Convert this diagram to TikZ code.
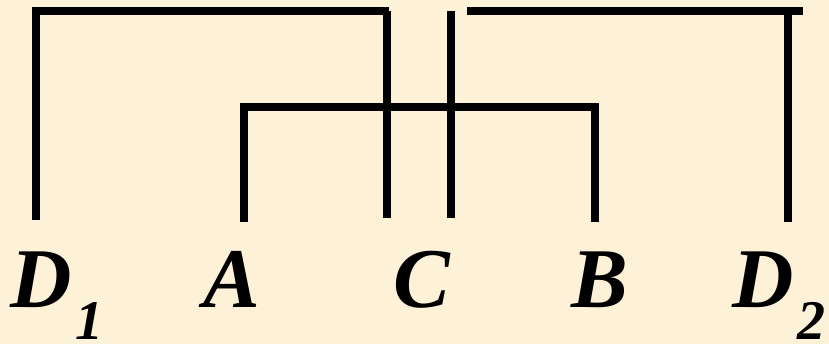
\documentclass[tikz,border=0pt]{standalone}
\usepackage{fontspec}
\setmainfont{Liberation Serif}
\usetikzlibrary{positioning}
\definecolor{paper}{RGB}{253,241,216}
\newcommand{\lowsub}[1]{\kern4pt\raisebox{-32pt}{\fontsize{56}{56}\selectfont #1}}

\begin{document}
\begin{tikzpicture}[x=1pt, y=-1pt,
    branch/.style={line width=7.5pt},
    leaf/.style={font=\fontsize{85}{85}\selectfont\bfseries\itshape, inner sep=0pt, anchor=base}]
    \fill [paper] (0,0) rectangle (829,344);
    \useasboundingbox (0,0) rectangle (829,344);

    % labels
    \node (d1) [leaf, anchor=base west] at (10,308) {D\lowsub{1}};
    \node (a)  [leaf] at (232,308) {A};
    \node (c)  [leaf] at (422,308) {C};
    \node (b)  [leaf] at (600,308) {B};
    \node (d2) [leaf, anchor=base west] at (732,308) {D\lowsub{2}};

    % free ends of the branches
    \coordinate (d1end) at (36,220);
    \coordinate (aend) at (244,222);
    \coordinate (cleft) at (387,218);
    \coordinate (cright) at (451,218);
    \coordinate (bend) at (595,222);
    \coordinate (d2end) at (788,222);
    \coordinate (lefttop) at (389,11);
    \coordinate (rightstart) at (467,11);
    \coordinate (righttop) at (803,11);
    \coordinate (midbar) at (595,107);

    \draw [branch] (d1end) |- (lefttop);
    \draw [branch] (cleft) -- (cleft |- lefttop);
    \draw [branch] (cright) -- (cright |- lefttop);
    \draw [branch] (rightstart) -- (righttop);
    \draw [branch] (d2end) -- (d2end |- righttop);
    \draw [branch] (aend) |- (midbar) -- (bend);
\end{tikzpicture}
\end{document}
